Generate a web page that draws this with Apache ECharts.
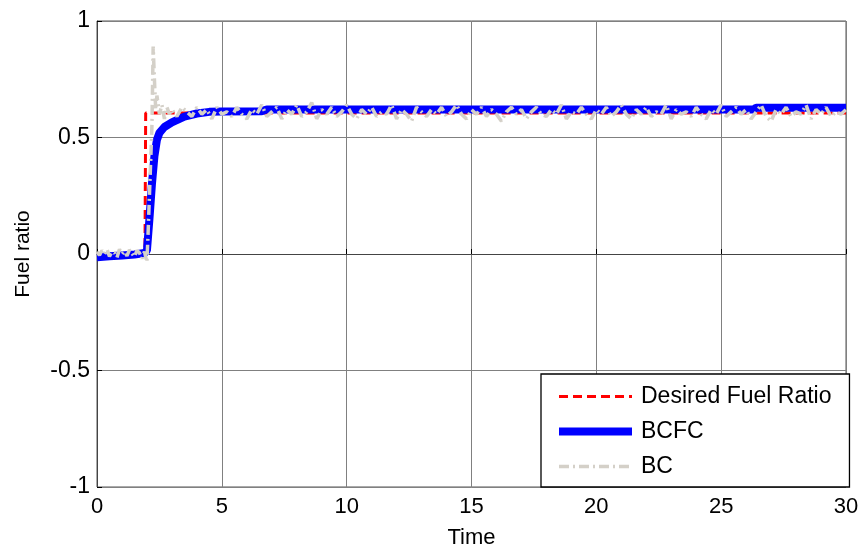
<!DOCTYPE html>
<html>
<head>
<meta charset="utf-8">
<script src="https://cdn.jsdelivr.net/npm/echarts@6/dist/echarts.min.js"></script>
<style>
  html, body { margin: 0; padding: 0; background: #fff; }
  #chart { width: 859px; height: 549px; }
</style>
</head>
<body>
<div id="chart"></div>
<script>
// 坐标轴刻度
var xTicks = [0, 5, 10, 15, 20, 25, 30];
var yTicks = [-1, -0.5, 0, 0.5, 1];

// 期望燃料比 [time, value]
var desired = [[0, -0.005], [1.92, -0.005], [1.95, 0.605], [30, 0.605]];

// BCFC 曲线 [time, value]
var bcfc = [
  [0, -0.014], [0.5, -0.01], [1.0, -0.006], [1.5, -0.002], [1.9, 0.004], [2.0, 0.015],
  [2.1, 0.15], [2.2, 0.3], [2.3, 0.42], [2.4, 0.49], [2.5, 0.52], [2.7, 0.545],
  [3.0, 0.565], [3.5, 0.59], [4.0, 0.603], [4.5, 0.61], [5.0, 0.612], [6.6, 0.613],
  [6.8, 0.62], [26.3, 0.62], [26.4, 0.628], [30, 0.628]
];

// BC 曲线：起始段 [time, value]
var bcStart = [
  [0, 0.01], [0.1, -0.005], [0.2, 0.015], [0.3, 0.0], [0.4, 0.02], [0.5, -0.01],
  [0.6, 0.01], [0.7, 0.005], [0.8, -0.015], [0.9, 0.02], [1.0, 0.0], [1.1, 0.012],
  [1.2, -0.008], [1.3, 0.018], [1.4, 0.002], [1.5, -0.012], [1.6, 0.015], [1.7, 0.005],
  [1.8, -0.02], [1.9, 0.01], [2.0, -0.035], [2.05, 0.1], [2.1, 0.25], [2.15, 0.4],
  [2.2, 0.55], [2.25, 0.89], [2.3, 0.75], [2.35, 0.62], [2.4, 0.68], [2.5, 0.6],
  [2.6, 0.64], [2.7, 0.58], [2.8, 0.63], [2.9, 0.6], [3.0, 0.62], [3.2, 0.59], [3.4, 0.63]
];
// BC 稳态段：从 3.6 开始，每 0.2 秒一个采样
var bcSteadyStart = 3.6;
var bcSteadyStep = 0.2;
var bcSteady = [
  0.61, 0.59, 0.63, 0.6, 0.62, 0.58, 0.63, 0.6, 0.61, 0.59,
  0.63, 0.6, 0.58, 0.62, 0.6, 0.64, 0.59, 0.61, 0.63, 0.58,
  0.62, 0.6, 0.64, 0.59, 0.61, 0.65, 0.58, 0.62, 0.6, 0.63,
  0.59, 0.61, 0.64, 0.6, 0.58, 0.62, 0.6, 0.63, 0.59, 0.61,
  0.6, 0.64, 0.58, 0.62, 0.6, 0.57, 0.63, 0.61, 0.59, 0.62,
  0.6, 0.63, 0.59, 0.61, 0.64, 0.6, 0.58, 0.62, 0.6, 0.63,
  0.59, 0.62, 0.6, 0.57, 0.61, 0.63, 0.6, 0.62, 0.58, 0.61,
  0.63, 0.6, 0.59, 0.62, 0.6, 0.64, 0.58, 0.61, 0.6, 0.63,
  0.6, 0.58, 0.62, 0.6, 0.63, 0.59, 0.61, 0.64, 0.6, 0.58,
  0.62, 0.6, 0.63, 0.59, 0.61, 0.6, 0.64, 0.58, 0.62, 0.6,
  0.61, 0.59, 0.63, 0.6, 0.58, 0.62, 0.6, 0.64, 0.59, 0.61,
  0.63, 0.6, 0.62, 0.58, 0.61, 0.64, 0.59, 0.57, 0.62, 0.6,
  0.63, 0.59, 0.61, 0.6, 0.64, 0.58, 0.62, 0.6, 0.63, 0.59,
  0.61, 0.6, 0.62
];

var bc = bcStart.concat(bcSteady.map(function (v, i) {
  return [+(bcSteadyStart + i * bcSteadyStep).toFixed(2), v];
}));

var font = 'Liberation Sans, Arial, sans-serif';
var myEchart = echarts.init(document.getElementById('chart'));
var option = {
  animation: false,
  backgroundColor: '#fff',
  grid: {
    left: 97, right: 13, top: 21, bottom: 62,
    outerBoundsMode: 'none',
    containLabel: false,
    show: true,
    borderColor: '#555',
    borderWidth: 1
  },
  legend: {
    orient: 'vertical',
    left: 541,
    top: 374,
    data: [
      { name: 'Desired Fuel Ratio', lineStyle: { width: 3 } },
      { name: 'BCFC', lineStyle: { width: 8 } },
      { name: 'BC', lineStyle: { width: 3.5 } }
    ],
    itemWidth: 73,
    itemHeight: 23,
    itemGap: 12,
    itemStyle: { opacity: 0 },
    padding: [11, 18, 9, 14],
    borderColor: '#000',
    borderWidth: 1.3,
    borderRadius: 0,
    backgroundColor: '#fff',
    textStyle: { fontFamily: font, fontSize: 23, color: '#000', padding: [0, 0, 0, 4] }
  },
  xAxis: {
    type: 'value',
    min: xTicks[0],
    max: xTicks[xTicks.length - 1],
    interval: 5,
    name: 'Time',
    nameLocation: 'middle',
    nameGap: 40,
    nameTextStyle: { fontFamily: font, fontSize: 22, color: '#000' },
    axisLine: { show: true, lineStyle: { color: '#444', width: 1 } },
    axisTick: { show: true, inside: true, length: 5, lineStyle: { color: '#000' } },
    axisLabel: { fontFamily: font, fontSize: 22, color: '#000', margin: 9 },
    splitLine: { show: true, lineStyle: { color: '#808080', width: 1 } }
  },
  yAxis: {
    type: 'value',
    min: yTicks[0],
    max: yTicks[yTicks.length - 1],
    interval: 0.5,
    name: 'Fuel ratio',
    nameLocation: 'middle',
    nameGap: 63,
    nameTextStyle: { fontFamily: font, fontSize: 21, color: '#000' },
    axisLine: { show: true, lineStyle: { color: '#444', width: 1 } },
    axisTick: { show: true, inside: true, length: 5, lineStyle: { color: '#000' } },
    axisLabel: { fontFamily: font, fontSize: 23, color: '#000', margin: 7 },
    splitLine: { show: true, lineStyle: { color: '#808080', width: 1 } }
  },
  series: [
    {
      name: 'Desired Fuel Ratio',
      type: 'line',
      symbol: 'none',
      color: '#ff0000',
      lineStyle: { color: '#ff0000', width: 3, type: [9, 5] },
      data: desired
    },
    {
      name: 'BCFC',
      type: 'line',
      symbol: 'none',
      color: '#0000ff',
      lineStyle: { color: '#0000ff', width: 8 },
      data: bcfc
    },
    {
      name: 'BC',
      type: 'line',
      symbol: 'none',
      color: '#d4d0c8',
      lineStyle: { color: '#d4d0c8', width: 3.5, type: [10, 4, 2, 4] },
      data: bc
    }
  ]
};
myEchart.setOption(option);
</script>
</body>
</html>
